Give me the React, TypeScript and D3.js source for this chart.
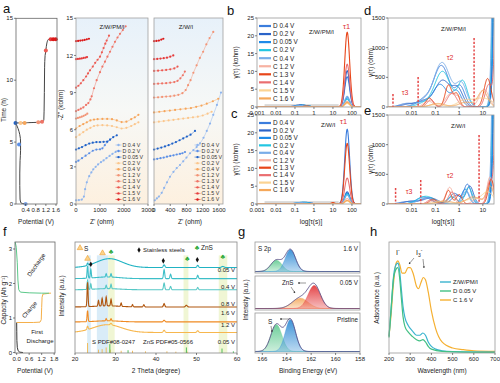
import React from "react";
import * as d3 from "d3";

const FONT = "'Liberation Sans', Arial, Helvetica, sans-serif";
type P = [number, number];
type Pk = [number, number, number];

// ---------- shared series ----------
const seriesNames = ["D 0.4 V", "D 0.2 V", "D 0.05 V", "C 0.2 V", "C 0.4 V", "C 1.2 V", "C 1.3 V", "C 1.4 V", "C 1.5 V", "C 1.6 V"];
const nyqColors = ["#8db4ee", "#5b8fe6", "#1f62c9", "#fbc68c", "#f6a55a", "#f29476", "#ef7466", "#ec5a52", "#e53a3a", "#dc1818"];
const drtColors = ["#3b7ddd", "#2a63c8", "#1f8be8", "#22c6e2", "#79ade8", "#f7b2a2", "#e8461a", "#ea6e70", "#fbd392", "#f5a85a"];

// ---------- panel a1 (time vs potential) ----------
const a1Potential = [0.40, 0.22, 0.18, 0.17, 0.17, 0.18, 0.20, 0.20, 0.17, 0.10, 0.04, 0.00, 0.20, 0.50, 0.90, 1.06, 1.12, 1.13, 1.14, 1.15, 1.17, 1.20, 1.24, 1.30, 1.45, 1.60];
const a1Time = [0, 0.08, 0.4, 1.5, 2.5, 3.5, 4.3, 5.0, 5.6, 6.1, 6.4, 6.55, 6.55, 6.57, 6.6, 6.65, 6.8, 7.5, 9, 11, 12.0, 12.4, 13.0, 13.3, 13.3, 13.3];
const a1DotPotential = [0.40, 0.14, 0.00, 0.20, 0.36, 0.90, 1.05, 1.20, 1.39, 1.49, 1.59];
const a1DotTime = [0, 4.8, 6.55, 6.55, 6.55, 6.6, 6.65, 12.4, 13.3, 13.3, 13.3];
const a1DotColors = ["#7aa6ee", "#5b8fe6", "#1f62c9", "#fbc68c", "#f6a55a", "#f29476", "#ef7466", "#ec5a52", "#e53a3a", "#dc1818", "#dc1818"];

// ---------- panel a2 (Z/W/PM/I Nyquist, ohm vs kohm) ----------
const a2D04: P[] = [[0, 0.3], [120, 0.32], [240, 0.36], [330, 0.6], [380, 1.2], [450, 1.75], [550, 2.25], [640, 2.55], [720, 2.8], [820, 3.0], [920, 3.2], [1040, 3.38], [1150, 3.52], [1270, 3.7], [1400, 3.88], [1520, 4.05], [1650, 4.2]];
const a2D02: P[] = [[0, 3.4], [100, 3.5], [250, 3.7], [400, 3.9], [550, 4.1], [700, 4.3], [850, 4.4], [1000, 4.42], [1100, 4.5], [1200, 4.75], [1300, 5.0], [1420, 5.2]];
const a2D005: P[] = [[0, 4.4], [120, 4.5], [250, 4.6], [400, 4.75], [550, 4.88], [700, 4.95], [850, 5.0], [1000, 5.0], [1150, 5.02], [1300, 5.05], [1420, 5.2], [1550, 5.4], [1700, 5.55]];
const a2C02: P[] = [[0, 5.4], [150, 5.6], [300, 5.8], [450, 6.0], [600, 6.15], [750, 6.3], [900, 6.35], [1100, 6.37], [1300, 6.35], [1500, 6.3], [1700, 6.2], [1900, 6.1], [2100, 6.15], [2300, 6.3], [2450, 6.45], [2600, 6.6]];
const a2C04: P[] = [[0, 6.1], [150, 6.3], [300, 6.45], [450, 6.6], [600, 6.75], [750, 6.82], [900, 6.85], [1100, 6.87], [1300, 6.87], [1500, 6.85], [1700, 6.75], [1900, 6.62], [2100, 6.65], [2300, 6.85], [2450, 7.0], [2600, 7.2]];
const a2C12: P[] = [[0, 6.9], [80, 6.95], [160, 7.0], [240, 7.05], [320, 7.12], [400, 7.2], [470, 7.3]];
const a2C13: P[] = [[0, 7.5], [100, 7.6], [200, 7.7], [305, 7.8], [420, 8.0], [514, 8.15], [600, 8.45], [653, 8.7], [750, 9.35], [861, 10.0], [1000, 10.65], [1100, 11.1], [1208, 11.5], [1310, 11.9], [1417, 12.3], [1520, 12.7], [1625, 13.1], [1730, 13.45], [1833, 13.75], [1950, 14.05], [2069, 14.35]];
const a2C14: P[] = [[0, 9.4], [100, 9.55], [200, 9.75], [305, 10.0], [420, 10.3], [500, 10.55], [583, 10.8], [700, 11.1], [800, 11.4], [900, 11.65], [1000, 11.9], [1080, 12.25], [1150, 12.6], [1220, 12.95], [1278, 13.2], [1375, 13.6]];
const a2C15: P[] = [[0, 11.7], [80, 11.72], [160, 11.74], [240, 11.76], [320, 11.8], [400, 11.83], [460, 11.87]];
const a2C16: P[] = [[0, 13.15], [90, 13.17], [180, 13.2], [270, 13.22], [360, 13.25], [450, 13.3], [540, 13.35]];
const a2Series = [a2D04, a2D02, a2D005, a2C02, a2C04, a2C12, a2C13, a2C14, a2C15, a2C16];

// ---------- panel a3 (Z/W/I Nyquist) ----------
const a3D04: P[] = [[20, 0.3], [70, 0.45], [120, 0.6], [190, 0.9], [250, 1.3], [320, 1.75], [394, 2.2], [480, 2.6], [560, 2.9], [640, 3.15], [720, 3.45], [800, 3.75], [887, 4.1], [970, 4.35], [1050, 4.6], [1133, 4.9], [1220, 5.35], [1300, 5.9], [1380, 6.5], [1460, 7.2], [1550, 8.0], [1650, 9.0]];
const a3D02: P[] = [[0, 3.6], [80, 3.65], [160, 3.7], [240, 3.75], [320, 3.82], [400, 3.88], [480, 3.93], [560, 4.0], [640, 4.05], [700, 4.1], [764, 4.2]];
const a3D005: P[] = [[0, 4.4], [90, 4.48], [180, 4.56], [270, 4.65], [360, 4.75], [450, 4.88], [540, 5.0], [630, 5.15], [720, 5.3], [810, 5.45], [900, 5.6], [1010, 5.9]];
const a3C02: P[] = [[0, 6.6], [120, 6.65], [240, 6.7], [360, 6.75], [480, 6.8], [600, 6.85], [720, 6.9], [840, 6.95], [960, 7.0], [1080, 7.05], [1200, 7.15], [1320, 7.3], [1420, 7.45]];
const a3C04: P[] = [[0, 7.4], [130, 7.45], [260, 7.5], [390, 7.55], [520, 7.6], [650, 7.65], [780, 7.7], [910, 7.75], [1040, 7.85], [1170, 7.95], [1300, 8.1], [1450, 8.3], [1584, 8.5]];
const a3C12: P[] = [[0, 8.6], [100, 8.62], [200, 8.65], [300, 8.68], [400, 8.7], [500, 8.75], [600, 8.82], [700, 8.95], [780, 9.2], [840, 9.6], [900, 10.0], [970, 10.6], [1050, 11.2], [1130, 11.8], [1210, 12.3], [1290, 12.9], [1370, 13.4], [1460, 13.9]];
const a3C13: P[] = [[0, 9.7], [100, 9.72], [200, 9.74], [300, 9.76], [400, 9.8], [500, 9.85], [580, 9.95], [650, 10.15], [710, 10.4], [760, 10.7]];
const a3C14: P[] = [[0, 10.75], [100, 10.77], [200, 10.8], [300, 10.83], [400, 10.88], [500, 10.95], [580, 11.1]];
const a3C15: P[] = [[0, 11.7], [80, 11.72], [160, 11.75], [240, 11.78], [320, 11.82], [400, 11.9], [475, 12.0]];
const a3C16: P[] = [[0, 13.15], [60, 13.17], [120, 13.2], [180, 13.28], [230, 13.35]];
const a3Series = [a3D04, a3D02, a3D005, a3C02, a3C04, a3C12, a3C13, a3C14, a3C15, a3C16];

// ---------- panels b, c (DRT, kohm): [log10 tau, height, width] ----------
const bPeaks: Pk[][] = [
  [[1.75, 8.5, 0.13], [-0.6, 0.5, 0.3]],
  [[1.75, 10.2, 0.13], [-0.7, 0.6, 0.3]],
  [[1.75, 2.6, 0.13], [-0.5, 0.3, 0.3]],
  [[1.75, 2.2, 0.13], [-0.6, 0.5, 0.3]],
  [[1.75, 3.0, 0.13], [-0.7, 0.4, 0.3]],
  [[1.75, 1.6, 0.13]],
  [[1.75, 21, 0.13], [-0.4, 0.3, 0.15]],
  [[1.75, 12, 0.13]],
  [[1.75, 1.0, 0.13]],
  [[1.75, 1.3, 0.13]],
];
const cPeaks: Pk[][] = [
  [[1.75, 21, 0.13], [-0.6, 0.4, 0.3]],
  [[1.75, 3.4, 0.13], [-0.5, 0.5, 0.3]],
  [[1.75, 3.0, 0.13], [-0.4, 0.3, 0.3]],
  [[1.75, 2.8, 0.13], [-0.6, 0.5, 0.3]],
  [[1.75, 2.5, 0.13], [-0.7, 0.4, 0.3]],
  [[1.75, 1.5, 0.13]],
  [[1.75, 17, 0.13], [1.0, 0.4, 0.1]],
  [[1.75, 7.3, 0.13]],
  [[1.75, 0.8, 0.13]],
  [[1.75, 1.0, 0.13]],
];

// ---------- panels d, e (DRT, ohm) ----------
const dPeaks: Pk[][] = [
  [[-2.2, 60, 0.3], [-1.5, 110, 0.25], [-0.75, 700, 0.33], [0.05, 330, 0.2], [1.8, 50000, 0.15]],
  [[-2.1, 50, 0.3], [-1.5, 90, 0.25], [-0.7, 450, 0.33], [-0.05, 280, 0.22], [1.82, 50000, 0.15]],
  [[-1.6, 80, 0.3], [-0.8, 380, 0.3], [-0.1, 260, 0.2], [1.84, 50000, 0.15]],
  [[-1.5, 60, 0.3], [-0.7, 600, 0.33], [0.15, 430, 0.2], [1.78, 50000, 0.15]],
  [[-1.6, 90, 0.3], [-0.72, 750, 0.35], [0.1, 380, 0.22], [1.76, 50000, 0.15]],
  [[-1.3, 100, 0.2], [-0.4, 200, 0.2], [0.0, 150, 0.2], [1.05, 300, 0.2]],
  [[-1.25, 150, 0.15], [-0.45, 370, 0.14], [-0.1, 220, 0.12], [1.2, 480, 0.15]],
  [[-1.2, 120, 0.15], [-0.3, 230, 0.2], [1.25, 380, 0.15], [1.9, 50000, 0.15]],
  [[-1.0, 40, 0.3], [0.2, 100, 0.3], [1.0, 150, 0.4]],
  [[-0.9, 60, 0.3], [0.3, 80, 0.3], [1.0, 270, 0.2]],
];
const ePeaks: Pk[][] = [
  [[-2.2, 40, 0.3], [-1.3, 110, 0.3], [-0.2, 180, 0.2], [0.35, 330, 0.15], [1.8, 50000, 0.15]],
  [[-2.0, 50, 0.3], [-1.2, 100, 0.3], [-0.1, 150, 0.2], [0.45, 300, 0.15], [1.82, 50000, 0.15]],
  [[-1.5, 120, 0.3], [0.25, 250, 0.15], [1.84, 50000, 0.15]],
  [[-1.4, 130, 0.35], [-0.3, 120, 0.2], [0.4, 280, 0.15], [1.78, 50000, 0.15]],
  [[-1.4, 110, 0.3], [0.3, 220, 0.15], [1.76, 50000, 0.15]],
  [[-1.0, 60, 0.2], [-0.4, 280, 0.15], [0.8, 100, 0.2], [1.3, 450, 0.12]],
  [[-1.1, 80, 0.15], [-0.45, 230, 0.12], [0.0, 160, 0.12], [1.35, 420, 0.12]],
  [[-1.2, 70, 0.15], [-0.3, 200, 0.15], [1.3, 380, 0.12], [1.9, 50000, 0.15]],
  [[-0.8, 40, 0.3], [0.5, 80, 0.3], [1.2, 200, 0.25]],
  [[-0.6, 50, 0.3], [0.6, 120, 0.3], [1.3, 300, 0.15]],
];
const dDashLog = [-2.79, -1.73, 0.63];
const dDashTop = [219, 506, 1163];
const eDashLog = [-2.68, -1.62, 0.84];
const eDashTop = [270, 405, 1163];

// ---------- panel f1 (capacity vs potential) ----------
const f1FirstDis: P[] = [[0.0, 0.87], [0.005, 0.6], [0.01, 0.35], [0.03, 0.15], [0.07, 0.05], [0.15, 0.01], [0.3, 0.0]];
const f1Charge: P[] = [[0.0, 0.87], [0.4, 0.87], [0.8, 0.87], [1.12, 0.88], [1.18, 0.95], [1.2, 1.3], [1.22, 1.6], [1.26, 1.69], [1.35, 1.7], [1.6, 1.72], [1.65, 1.72]];
const f1Discharge: P[] = [[-0.07, 3.2], [-0.02, 3.05], [0.03, 2.6], [0.06, 2.1], [0.1, 1.82], [0.18, 1.75], [0.6, 1.73], [1.2, 1.72], [1.55, 1.72]];

// ---------- panel f2 (XRD) ----------
const xrdLabels = ["0.05 V", "0.4 V", "0.8 V", "1.6 V", "1.2 V", "0.05 V"];
const xrdOffsets = [77, 67, 57, 41.5, 28, 18.5];
const xrdHumps: Pk[] = [[28.5, 8, 3.2], [28, 1.5, 3], [28, 1, 3], [28, 1, 3], [28, 1, 3], [28, 7, 3.5]];
const xrdPeaks: Pk[][] = [
  [[23.1, 2, 0.15], [42.0, 2.5, 0.2], [50.3, 2, 0.2], [56.5, 1, 0.3]],
  [[23.1, 11, 0.12], [23.9, 8, 0.12], [27.7, 3, 0.12], [28.9, 3, 0.12], [42.0, 8, 0.15], [43.6, 4, 0.15], [50.3, 3, 0.15]],
  [[23.1, 8, 0.12], [23.9, 5, 0.12], [27.7, 3, 0.12], [28.9, 4, 0.12], [42.0, 6, 0.15], [43.6, 3, 0.15], [50.3, 2, 0.15]],
  [[23.1, 22, 0.12], [25.8, 5, 0.12], [26.7, 7, 0.12], [27.7, 8, 0.12], [28.9, 6, 0.12], [31.4, 3, 0.12], [34.2, 2, 0.12], [37.0, 2, 0.15], [42.0, 3, 0.15], [47.5, 1.5, 0.2]],
  [[23.1, 10, 0.12], [27.7, 2, 0.12], [28.9, 2, 0.12], [42.0, 1.5, 0.2]],
  [[23.1, 3, 0.15], [28.9, 1.5, 0.2], [42.0, 2, 0.2], [50.3, 1.5, 0.2]],
];
const sStickPos = [23.1, 25.8, 26.7, 27.7, 28.7, 31.4, 34.2, 37.4, 42.7, 44.9, 47.7];
const sStickH = [9, 3, 3.5, 5, 3, 2, 2, 1.5, 1.5, 1.2, 1.2];
const znsStickPos = [28.6, 33.1, 47.5, 56.3, 59.1];
const znsStickH = [8, 2.5, 5, 4, 1.5];
const blueBands: P[] = [[23.0, 23.9], [25.4, 28.2]];
const yellowBands: P[] = [[28.2, 29.8], [46.8, 48.0], [55.5, 57.6]];
const sTriangles: P[] = [[23.1, 85], [26.8, 90]];
const znsClubs: P[] = [[28.9, 91], [47.7, 85.5], [56.5, 87]];
const steelDiamonds: P[] = [[23.9, 80], [41.8, 83], [50.2, 84]];

// ---------- panel g (XPS S 2p) ----------
const gLabels = ["1.6 V", "0.05 V", "Pristine"];
const gPeaks: Pk[][] = [
  [[164.85, 0.40, 0.45], [163.7, 0.77, 0.42]],
  [[162.9, 0.33, 0.65], [161.75, 0.73, 0.5]],
  [[164.85, 0.72, 0.45], [163.7, 0.85, 0.42]],
];
const gPeakColors = [["#6fcf9b", "#3f94d8"], ["#f6b06a", "#e5474a"], ["#6fcf9b", "#3f94d8"]];

// ---------- panel h (UV-vis) ----------
const hPM: P[] = [[200, 0.15], [210, 0.4], [222, 0.7], [235, 0.8], [243, 0.81], [250, 0.74], [258, 0.58], [266, 0.42], [275, 0.32], [290, 0.25], [310, 0.2], [330, 0.16], [345, 0.16], [360, 0.18], [372, 0.16], [385, 0.1], [400, 0.06], [420, 0.035], [450, 0.02], [500, 0.012], [700, 0.008]];
const hD005: P[] = [[200, 0.14], [210, 0.4], [222, 0.68], [235, 0.76], [242, 0.77], [250, 0.68], [258, 0.5], [266, 0.33], [275, 0.24], [290, 0.19], [310, 0.15], [330, 0.12], [345, 0.11], [360, 0.12], [372, 0.1], [385, 0.06], [400, 0.035], [450, 0.015], [700, 0.005]];
const hC16: P[] = [[200, 0.15], [210, 0.35], [220, 0.6], [232, 0.8], [242, 0.83], [250, 0.8], [262, 0.72], [275, 0.72], [290, 0.77], [300, 0.77], [315, 0.71], [330, 0.6], [340, 0.58], [350, 0.63], [362, 0.68], [372, 0.66], [385, 0.55], [400, 0.38], [420, 0.22], [450, 0.1], [500, 0.045], [550, 0.03], [600, 0.02], [700, 0.015]];
const hNames = ["Z/W/PM/I", "D 0.05 V", "C 1.6 V"];
const hColors = ["#3ab4cf", "#43c084", "#f5b032"];

// ================= helpers =================
const gauss = (x: number, p: Pk) => p[1] * Math.exp(-((x - p[0]) ** 2) / (2 * p[2] * p[2]));
const sumPeaks = (x: number, ps: Pk[]) => ps.reduce((a, p) => a + gauss(x, p), 0);
const logGrid = d3.range(-3.3, 2.7, 0.01);

const TC = "#333";
function XTicks({ s, y, vals, fmt, fs = 6, len = 2 }: any) {
  return (
    <g>
      {vals.map((v: number, i: number) => {
        const x = s(v);
        return (
          <g key={i}>
            <line x1={x} x2={x} y1={y} y2={y + len} stroke={TC} strokeWidth={0.6} />
            <text x={x} y={y + len + fs * 0.95} fontSize={fs} textAnchor="middle" fill="#222">{fmt ? fmt(v) : String(v)}</text>
          </g>
        );
      })}
    </g>
  );
}
function YTicks({ s, x, vals, fmt, fs = 6, len = 2 }: any) {
  return (
    <g>
      {vals.map((v: number, i: number) => {
        const y = s(v);
        return (
          <g key={i}>
            <line x1={x - len} x2={x} y1={y} y2={y} stroke={TC} strokeWidth={0.6} />
            <text x={x - len - 1} y={y + fs * 0.35} fontSize={fs} textAnchor="end" fill="#222">{fmt ? fmt(v) : String(v)}</text>
          </g>
        );
      })}
    </g>
  );
}
function Frame({ x0, y0, x1, y1, c = "#8a8a8a", w = 0.8 }: any) {
  return <rect x={x0} y={y0} width={x1 - x0} height={y1 - y0} fill="none" stroke={c} strokeWidth={w} />;
}
function VLabel({ x, y, children, fs = 6.5 }: any) {
  return (
    <text transform={`translate(${x},${y}) rotate(-90)`} fontSize={fs} textAnchor="middle" fill="#222">{children}</text>
  );
}
function PanelLabel({ x, y, t }: any) {
  return <text x={x} y={y} fontSize={13} fill="#111">{t}</text>;
}

// ================= panel a =================
function PanelA() {
  const xa1 = d3.scaleLinear().domain([0.02, 1.64]).range([16, 57]);
  const ya = d3.scaleLinear().domain([0, 15]).range([204, 18.3]);
  const a1Line = d3.line<number>().x((_, i) => xa1(a1Potential[i])).y((_, i) => ya(a1Time[i])).curve(d3.curveMonotoneY);
  const xa2 = d3.scaleLinear().domain([0, 3000]).range([76, 148]);
  const xa3 = d3.scaleLinear().domain([0, 1700]).range([154, 223]);
  const nyq = (xs: any, pts: P[]) => d3.line<P>().x((d) => xs(d[0])).y((d) => ya(d[1])).curve(d3.curveCatmullRom)(pts) || "";

  const legend = (lx: number) =>
    seriesNames.map((n, i) => {
      const y = 145 + i * 6.05;
      return (
        <g key={n}>
          <line x1={lx - 3} x2={lx + 3} y1={y} y2={y} stroke={nyqColors[i]} strokeWidth={0.6} />
          <circle cx={lx} cy={y} r={1.2} fill={nyqColors[i]} />
          <text x={lx + 4} y={y + 1.9} fontSize={5.3} fill="#333">{n}</text>
        </g>
      );
    });

  const nyqPanel = (xs: any, series: P[][], x0: number, x1: number, lx: number) => (
    <g>
      <rect x={x0} y={18} width={x1 - x0} height={186} fill="url(#nyqBg)" />
      {series.map((pts, i) => (
        <g key={i}>
          <path d={nyq(xs, pts)} fill="none" stroke={nyqColors[i]} strokeWidth={0.6} strokeOpacity={0.8} />
          {pts.map((d, j) => (
            <circle key={j} cx={xs(d[0])} cy={ya(d[1])} r={1.1} fill={nyqColors[i]} />
          ))}
        </g>
      ))}
      {legend(lx)}
      <Frame x0={x0} y0={18} x1={x1} y1={204} c="#a0a0a0" />
    </g>
  );

  return (
    <g>
      <PanelLabel x={3} y={13} t="a" />
      {/* a1 */}
      <path d={a1Line(a1Potential) || ""} fill="none" stroke="#444" strokeWidth={1} />
      {a1DotPotential.map((v, i) => (
        <circle key={i} cx={xa1(v)} cy={ya(a1DotTime[i])} r={2} fill={a1DotColors[i]} />
      ))}
      <Frame x0={16} y0={18.3} x1={57} y1={204} c="#666" />
      <YTicks s={ya} x={16} vals={[0, 5, 10, 15]} />
      <XTicks s={xa1} y={204} vals={[0.4, 0.8, 1.2, 1.6]} fmt={(v: number) => v.toFixed(1)} />
      <VLabel x={6} y={110}>Time (h)</VLabel>
      <text x={36} y={224} fontSize={6.5} textAnchor="middle" fill="#222">Potential (V)</text>
      {/* a2 */}
      {nyqPanel(xa2, a2Series, 76, 148, 118.5)}
      <YTicks s={ya} x={76} vals={[0, 3, 6, 9, 12, 15]} />
      <XTicks s={xa2} y={204} vals={[0, 1000, 2000, 3000]} />
      <text x={112} y={29} fontSize={6} textAnchor="middle" fill="#222">Z/W/PM/I</text>
      <VLabel x={63} y={105}>-Z'' (kohm)</VLabel>
      <text x={102} y={224} fontSize={6.5} textAnchor="middle" fill="#222">Z' (ohm)</text>
      {/* a3 */}
      {nyqPanel(xa3, a3Series, 154, 223, 197.5)}
      <XTicks s={xa3} y={204} vals={[0, 400, 800, 1200, 1600]} />
      <text x={186} y={29} fontSize={6} textAnchor="middle" fill="#222">Z/W/I</text>
      <text x={190} y={224} fontSize={6.5} textAnchor="middle" fill="#222">Z' (ohm)</text>
    </g>
  );
}

// ================= panels b, c =================
function DrtKohm({ top, bottom, peaks, title, titleX, titleY, tauX, tauY, legY0, legStep, id }: any) {
  const xs = d3.scaleLog().domain([0.001, 300]).range([257, 361]);
  const ys = d3.scaleLinear().domain([0, 25]).range([bottom, top]);
  return (
    <g>
      <clipPath id={id}><rect x={257} y={top} width={104} height={bottom - top} /></clipPath>
      <rect x={xs(0.0025)} y={ys(0.8)} width={xs(20) - xs(0.0025)} height={ys(0) - ys(0.8)} fill="#d8d8d8" />
      <g clipPath={`url(#${id})`}>
        {peaks.map((ps: Pk[], i: number) => {
          const d = d3.line<number>().x((l) => xs(Math.pow(10, l))).y((l) => ys(sumPeaks(l, ps)))(logGrid) || "";
          return <path key={i} d={d} fill="none" stroke={drtColors[i]} strokeWidth={1.1} />;
        })}
      </g>
      <Frame x0={257} y0={top} x1={361} y1={bottom} c="#999" />
      <YTicks s={ys} x={257} vals={[0, 5, 10, 15, 20, 25]} />
      <XTicks s={xs} y={bottom} vals={[0.001, 0.01, 0.1, 1, 10, 100]} fmt={(v: number) => String(v)} />
      {seriesNames.map((n, i) => {
        const y = legY0 + i * legStep;
        return (
          <g key={n}>
            <line x1={259} x2={271} y1={y} y2={y} stroke={drtColors[i]} strokeWidth={2.2} />
            <text x={273} y={y + 2.3} fontSize={6.4} fill="#1a1a1a">{n}</text>
          </g>
        );
      })}
      <text x={titleX} y={titleY} fontSize={6} fill="#222">{title}</text>
      <text x={tauX} y={tauY} fontSize={7.5} fill="#e03030">τ1</text>
      <VLabel x={238} y={(top + bottom) / 2}>γ(τ) (kohm)</VLabel>
    </g>
  );
}

// ================= panels d, e =================
function DrtOhm({ top, bottom, peaks, title, titleX, titleY, dashLog, dashTop, t3, t2, id }: any) {
  const xs = d3.scaleLog().domain([0.001, 29.5]).range([388, 494]);
  const ys = d3.scaleLinear().domain([0, 1500]).range([bottom, top]);
  return (
    <g>
      <clipPath id={id}><rect x={388} y={top} width={106} height={bottom - top} /></clipPath>
      <g clipPath={`url(#${id})`}>
        {peaks.map((ps: Pk[], i: number) => {
          const d = d3.line<number>().x((l) => xs(Math.pow(10, l))).y((l) => ys(Math.min(sumPeaks(l, ps), 3000)))(logGrid) || "";
          return <path key={i} d={d} fill="none" stroke={drtColors[i]} strokeWidth={1} />;
        })}
      </g>
      {dashLog.map((l: number, i: number) => (
        <line key={i} x1={xs(Math.pow(10, l))} x2={xs(Math.pow(10, l))} y1={ys(dashTop[i])} y2={bottom} stroke="#e54848" strokeWidth={1.5} strokeDasharray="2.2,1.6" />
      ))}
      <Frame x0={388} y0={top} x1={494} y1={bottom} c="#999" />
      <YTicks s={ys} x={388} vals={[0, 500, 1000, 1500]} />
      <XTicks s={xs} y={bottom} vals={[0.01, 0.1, 1, 10]} fmt={(v: number) => String(v)} />
      <text x={titleX} y={titleY} fontSize={6} fill="#222">{title}</text>
      <text x={xs(Math.pow(10, t3[0]))} y={ys(t3[1])} fontSize={7} fill="#e03030" textAnchor="middle">τ3</text>
      <text x={xs(Math.pow(10, t2[0]))} y={ys(t2[1])} fontSize={7} fill="#e03030" textAnchor="middle">τ2</text>
      <VLabel x={373} y={(top + bottom) / 2}>γ(τ) (ohm)</VLabel>
    </g>
  );
}

// ================= panel f =================
function PanelF() {
  const xf = d3.scaleLinear().domain([-0.08, 1.84]).range([15, 55]);
  const yf = d3.scaleLinear().domain([0, 3.2]).range([352.5, 242.1]);
  const lnX = (pts: P[]) => d3.line<P>().x((d) => xf(d[0])).y((d) => yf(d[1]))(pts) || "";

  const x2 = d3.scaleLinear().domain([20, 60]).range([75, 237]);
  const y2 = d3.scaleLinear().domain([0, 100]).range([353, 242]);
  const thetas = d3.range(20, 60.001, 0.05);
  const xrdColors = ["#21b3c3", "#3dbfc8", "#57c8c6", "#b0560f", "#f08a22", "#f7b74e"];

  return (
    <g>
      <PanelLabel x={3} y={236} t="f" />
      {/* f1 */}
      <path d={lnX(f1FirstDis)} fill="none" stroke="#333" strokeWidth={1} />
      <path d={lnX(f1Charge)} fill="none" stroke="#f5b04a" strokeWidth={1} />
      <path d={lnX(f1Discharge)} fill="none" stroke="#5cc98a" strokeWidth={1} />
      <Frame x0={15} y0={242} x1={55} y1={353} c="#666" />
      <YTicks s={yf} x={15} vals={[0, 1, 2, 3]} />
      <XTicks s={xf} y={353} vals={[0, 0.6, 1.2, 1.8]} fmt={(v: number) => v.toFixed(1)} />
      <VLabel x={6} y={300}>Capacity (Ah g⁻¹)</VLabel>
      <text x={35} y={373} fontSize={6.5} textAnchor="middle" fill="#222">Potential (V)</text>
      <text transform="translate(38,266) rotate(-55)" fontSize={6} textAnchor="middle" fill="#222">Discharge</text>
      <text transform="translate(31,311) rotate(-50)" fontSize={6} textAnchor="middle" fill="#222">Charge</text>
      <text x={37} y={334} fontSize={6} textAnchor="middle" fill="#222">First</text>
      <text x={40} y={343} fontSize={6} textAnchor="middle" fill="#222">Discharge</text>
      {/* f2 */}
      {blueBands.map((b, i) => (
        <rect key={"b" + i} x={x2(b[0])} y={y2(88)} width={x2(b[1]) - x2(b[0])} height={y2(0) - y2(88)} fill="#d5eaf7" opacity={0.9} />
      ))}
      {yellowBands.map((b, i) => (
        <rect key={"y" + i} x={x2(b[0])} y={y2(88)} width={x2(b[1]) - x2(b[0])} height={y2(0) - y2(88)} fill="#eef5cf" opacity={0.9} />
      ))}
      {xrdPeaks.map((ps, i) => {
        const d = d3.line<number>().x((t) => x2(t)).y((t) => y2(xrdOffsets[i] + gauss(t, xrdHumps[i]) + sumPeaks(t, ps)))(thetas) || "";
        return <path key={i} d={d} fill="none" stroke={xrdColors[i]} strokeWidth={1.1} />;
      })}
      {xrdLabels.map((t, i) => (
        <text key={i} x={235} y={[272, 289, 305.5, 315, 327, 344][i]} fontSize={6} textAnchor="end" fill="#222">{t}</text>
      ))}
      {sStickPos.map((p, i) => (
        <line key={"s" + i} x1={x2(p)} x2={x2(p)} y1={y2(0)} y2={y2(sStickH[i])} stroke="#f2b64a" strokeWidth={0.9} />
      ))}
      {znsStickPos.map((p, i) => (
        <line key={"z" + i} x1={x2(p)} x2={x2(p)} y1={y2(0)} y2={y2(znsStickH[i])} stroke="#3cb84a" strokeWidth={0.9} />
      ))}
      {sTriangles.map((p, i) => (
        <path key={"t" + i} d={d3.symbol(d3.symbolTriangle, 14)() || ""} transform={`translate(${x2(p[0])},${y2(p[1])})`} fill="#fbd38a" stroke="#f0a030" strokeWidth={0.6} />
      ))}
      {znsClubs.map((p, i) => (
        <text key={"c" + i} x={x2(p[0])} y={y2(p[1]) + 2.5} fontSize={7} textAnchor="middle" fill="#2faa3c">♣</text>
      ))}
      {steelDiamonds.map((p, i) => (
        <path key={"d" + i} d={d3.symbol(d3.symbolDiamond, 9)() || ""} transform={`translate(${x2(p[0])},${y2(p[1])})`} fill="#111" />
      ))}
      <path d={d3.symbol(d3.symbolTriangle, 14)() || ""} transform={`translate(${80},${248})`} fill="#fbd38a" stroke="#f0a030" strokeWidth={0.6} />
      <text x={84} y={250.5} fontSize={6.5} fill="#222">S</text>
      <path d={d3.symbol(d3.symbolDiamond, 9)() || ""} transform={`translate(${139},${250})`} fill="#111" />
      <text x={143} y={252.3} fontSize={6} fill="#222">Stainless steels</text>
      <text x={197} y={249.5} fontSize={7} textAnchor="middle" fill="#2faa3c">♣</text>
      <text x={201} y={249.5} fontSize={6.5} fill="#222">ZnS</text>
      <text x={92} y={344} fontSize={6} fill="#222">S PDF#08-0247</text>
      <text x={143} y={344} fontSize={6} fill="#222">ZnS PDF#05-0566</text>
      <Frame x0={75} y0={242} x1={237} y1={353} c="#888" />
      <XTicks s={x2} y={353} vals={[20, 30, 40, 50, 60]} />
      <VLabel x={64} y={296}>Intensity (a.u.)</VLabel>
      <text x={156} y={373} fontSize={6.5} textAnchor="middle" fill="#222">2 Theta (degree)</text>
    </g>
  );
}

// ================= panel g =================
function PanelG() {
  const xs = d3.scaleLinear().domain([166.6, 158]).range([255, 360]);
  const boxes: P[] = [[242, 273], [276, 310], [313, 353]];
  const evs = d3.range(158, 166.601, 0.05);
  return (
    <g>
      <PanelLabel x={238} y={236} t="g" />
      <defs>
        {["#6fcf9b", "#3f94d8", "#f6b06a", "#e5474a"].map((c, i) => (
          <linearGradient key={i} id={"gg" + i} x1="0" y1="0" x2="0" y2="1">
            <stop offset="0" stopColor={c} stopOpacity={1} />
            <stop offset="1" stopColor={c} stopOpacity={0.35} />
          </linearGradient>
        ))}
      </defs>
      {boxes.map((b, k) => {
        const ys = d3.scaleLinear().domain([0, 1]).range([b[1] - 1.5, b[0] + 1]);
        const env = d3.line<number>().x((e) => xs(e)).y((e) => ys(sumPeaks(e, gPeaks[k])))(evs) || "";
        return (
          <g key={k}>
            {gPeaks[k].map((p, j) => {
              const area = d3.area<number>().x((e) => xs(e)).y0(ys(0)).y1((e) => ys(gauss(e, p)))(evs) || "";
              const gid = k === 1 ? (j === 0 ? "gg2" : "gg3") : j === 0 ? "gg0" : "gg1";
              return <path key={j} d={area} fill={`url(#${gid})`} stroke={gPeakColors[k][j]} strokeWidth={0.4} />;
            })}
            <path d={env} fill="none" stroke="#5a4f86" strokeWidth={0.9} />
            <rect x={255} y={b[0]} width={105} height={b[1] - b[0]} fill="none" stroke="#9a9a9a" strokeWidth={0.8} />
            <text x={358} y={b[0] + 9} fontSize={6.3} textAnchor="end" fill="#222">{gLabels[k]}</text>
          </g>
        );
      })}
      <text x={258} y={251} fontSize={6.3} fill="#222">S 2p</text>
      <text x={282} y={285} fontSize={6.3} fill="#222">ZnS</text>
      <line x1={306} y1={283} x2={298} y2={283} stroke="#333" strokeWidth={0.5} markerEnd="url(#arr)" />
      <line x1={291} y1={287} x2={295} y2={293} stroke="#333" strokeWidth={0.5} markerEnd="url(#arr)" />
      <text x={268} y={324} fontSize={6.5} fill="#222">S</text>
      <line x1={290} y1={319} x2={280} y2={319} stroke="#333" strokeWidth={0.5} markerEnd="url(#arr)" />
      <line x1={271} y1={326} x2={272} y2={332} stroke="#333" strokeWidth={0.5} markerEnd="url(#arr)" />
      <XTicks s={xs} y={353} vals={[166, 164, 162, 160, 158]} />
      <VLabel x={248} y={300}>Intensity (a.u.)</VLabel>
      <text x={308} y={373} fontSize={6.5} textAnchor="middle" fill="#222">Binding Energy (eV)</text>
    </g>
  );
}

// ================= panel h =================
function PanelH() {
  const xs = d3.scaleLinear().domain([200, 700]).range([389, 495]);
  const ys = d3.scaleLinear().domain([0, 1]).range([353, 242]);
  const ln = (pts: P[]) => d3.line<P>().x((d) => xs(d[0])).y((d) => ys(d[1])).curve(d3.curveMonotoneX)(pts) || "";
  const all = [hPM, hD005, hC16];
  return (
    <g>
      <PanelLabel x={370} y={236} t="h" />
      {[2, 0, 1].map((i) => (
        <path key={i} d={ln(all[i])} fill="none" stroke={hColors[i]} strokeWidth={1.2} />
      ))}
      <Frame x0={389} y0={242} x1={495} y1={353} c="#999" />
      <XTicks s={xs} y={353} vals={[200, 300, 400, 500, 600, 700]} />
      <VLabel x={379} y={298}>Adsorbance (a.u.)</VLabel>
      <text x={442} y={373} fontSize={6.5} textAnchor="middle" fill="#222">Wavelength (nm)</text>
      {hNames.map((n, i) => (
        <g key={n}>
          <line x1={440} x2={451} y1={282 + i * 9} y2={282 + i * 9} stroke={hColors[i]} strokeWidth={1.4} />
          <text x={453} y={284.2 + i * 9} fontSize={6} fill="#222">{n}</text>
        </g>
      ))}
      <text x={396} y={255} fontSize={7} fill="#222">I<tspan dy={-3} fontSize={5}>-</tspan></text>
      <text x={416} y={255} fontSize={7} fill="#222">I<tspan dy={2} fontSize={5}>3</tspan><tspan dy={-5} fontSize={5}>-</tspan></text>
      <line x1={414} y1={258} x2={409} y2={264} stroke="#333" strokeWidth={0.5} markerEnd="url(#arr)" />
      <line x1={423} y1={259} x2={424} y2={268} stroke="#333" strokeWidth={0.5} markerEnd="url(#arr)" />
    </g>
  );
}

export default function App() {
  return (
    <svg width={500} height={383} style={{ position: "absolute", left: 0, top: 0 }} fontFamily={FONT}>
      <defs>
        <linearGradient id="nyqBg" x1="0" y1="0" x2="0" y2="1">
          <stop offset="0" stopColor="#e7f1fa" />
          <stop offset="0.5" stopColor="#f7f8f6" />
          <stop offset="1" stopColor="#fdf0df" />
        </linearGradient>
        <marker id="arr" viewBox="0 0 6 6" refX="5" refY="3" markerWidth="4" markerHeight="4" orient="auto">
          <path d="M0,0 L6,3 L0,6 z" fill="#333" />
        </marker>
      </defs>
      <rect width={500} height={383} fill="#fff" />
      <PanelA />
      <PanelLabel x={227} y={15} t="b" />
      <DrtKohm id="clipb" top={18} bottom={107} peaks={bPeaks} title="Z/W/PM/I" titleX={309} titleY={34} tauX={343} tauY={29} legY0={26} legStep={8.05} />
      <PanelLabel x={231} y={118} t="c" />
      <DrtKohm id="clipc" top={115} bottom={204} peaks={cPeaks} title="Z/W/I" titleX={321} titleY={127} tauX={340} tauY={124} legY0={123} legStep={7.45} />
      <text x={311} y={224} fontSize={6.5} textAnchor="middle" fill="#222">log[τ(s)]</text>
      <PanelLabel x={364} y={15} t="d" />
      <DrtOhm id="clipd" top={18} bottom={107} peaks={dPeaks} title="Z/W/PM/I" titleX={441} titleY={31} dashLog={dDashLog} dashTop={dDashTop} t3={[-2.28, 200]} t2={[-0.38, 800]} />
      <PanelLabel x={364} y={115} t="e" />
      <DrtOhm id="clipe" top={115} bottom={204} peaks={ePeaks} title="Z/W/I" titleX={451} titleY={128} dashLog={eDashLog} dashTop={eDashTop} t3={[-2.11, 170]} t2={[-0.38, 430]} />
      <text x={443} y={224} fontSize={6.5} textAnchor="middle" fill="#222">log[τ(s)]</text>
      <PanelF />
      <PanelG />
      <PanelH />
    </svg>
  );
}
